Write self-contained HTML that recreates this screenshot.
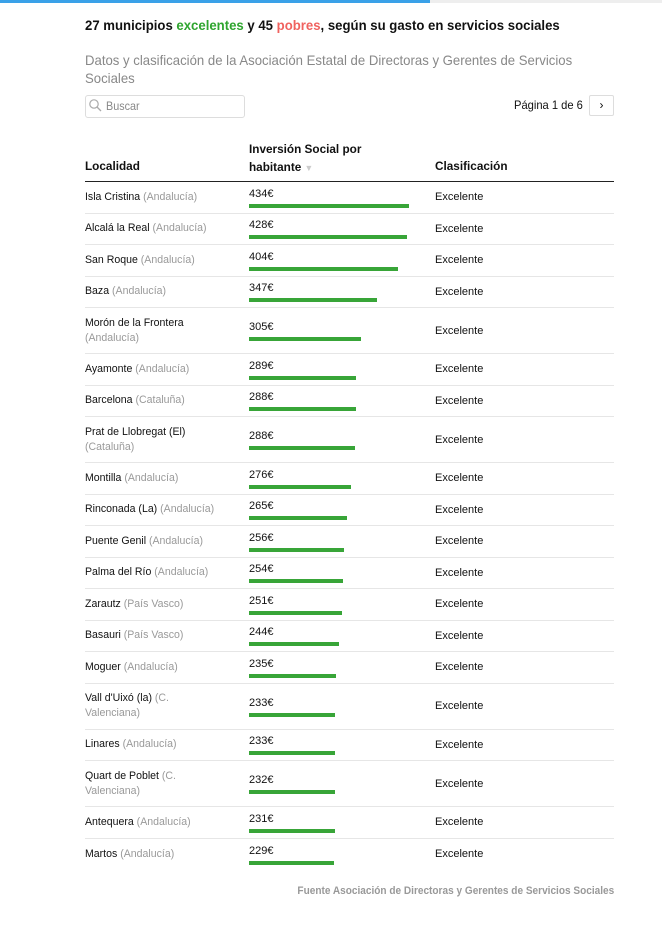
<!DOCTYPE html>
<html><head><meta charset="utf-8"><style>
*{margin:0;padding:0;box-sizing:border-box}
body{width:662px;height:928px;background:#fff;font-family:"Liberation Sans",sans-serif;color:#111;position:relative;overflow:hidden}
.a{position:absolute;white-space:nowrap}
.s{display:inline-block;transform-origin:0 50%;white-space:nowrap}
.g{color:#999}
.row{position:absolute;left:85px;width:529px;border-bottom:1px solid #e6e6e6}
.row .c1{position:absolute;left:0;top:0;height:100%;display:flex;align-items:center;font-size:11px;line-height:15px}
.row .c2{position:absolute;left:164px;top:0;height:100%;display:flex;flex-direction:column;justify-content:center;font-size:11px}
.row .c2 .v{line-height:14px;height:14px}
.row .c2 .b{height:4px;background:#38a538;margin-top:3px}
.row .c3{position:absolute;left:350px;top:0;height:100%;display:flex;align-items:center;font-size:11px}
</style></head><body>
<div class="a" style="left:0;top:0;width:430px;height:3px;background:#3aa1e8"></div>
<div class="a" style="left:430px;top:0;width:232px;height:3px;background:#eee"></div>
<div class="a" style="left:85px;top:15px;font-size:14px;font-weight:bold;line-height:20px"><span class="s" style="transform:scaleX(.94)">27 municipios <span style="color:#2fa52f">excelentes</span> y 45 <span style="color:#f0625f">pobres</span>, según su gasto en servicios sociales</span></div>
<div class="a" style="left:85px;top:51px;font-size:14px;color:#888;line-height:18px"><span class="s" style="transform:scaleX(.94)">Datos y clasificación de la Asociación Estatal de Directoras y Gerentes de Servicios</span><br><span class="s" style="transform:scaleX(.94)">Sociales</span></div>
<div class="a" style="left:85px;top:95px;width:160px;height:23px;border:1px solid #ddd;border-radius:3px"></div>
<svg class="a" style="left:88px;top:98px" width="14" height="14"><circle cx="6" cy="6" r="4.2" fill="none" stroke="#aaa" stroke-width="1.2"/><line x1="9" y1="9" x2="13" y2="13" stroke="#aaa" stroke-width="1.3"/></svg>
<div class="a" style="left:106px;top:99px;font-size:12px;color:#888;line-height:15px"><span class="s" style="transform:scaleX(.9)">Buscar</span></div>
<div class="a" style="left:514px;top:97px;font-size:12px;line-height:16px"><span class="s" style="transform:scaleX(.93)">Página 1 de 6</span></div>
<div class="a" style="left:589px;top:95px;width:25px;height:21px;border:1px solid #ddd;border-radius:2px;font-size:12px;text-align:center;line-height:19px">&#x203A;</div>
<div class="a" style="left:249px;top:140px;font-size:12px;font-weight:bold;line-height:18px"><span class="s" style="transform:scaleX(.98)">Inversión Social por</span><br><span class="s" style="transform:scaleX(.98)">habitante <span style="color:#ccc;font-size:9px">▼</span></span></div>
<div class="a" style="left:85px;top:158px;font-size:12px;font-weight:bold;line-height:16px"><span class="s" style="transform:scaleX(.98)">Localidad</span></div>
<div class="a" style="left:435px;top:158px;font-size:12px;font-weight:bold;line-height:16px"><span class="s" style="transform:scaleX(.98)">Clasificación</span></div>
<div class="a" style="left:85px;top:181px;width:529px;height:1px;background:#222"></div>

<div class="row" style="top:182px;height:31.5px"><div class="c1"><span class="s" style="transform:scaleX(.96)">Isla Cristina <span class="g">(Andalucía)</span></span></div><div class="c2"><div class="v">434€</div><div class="b" style="width:160px"></div></div><div class="c3">Excelente</div></div>
<div class="row" style="top:213.5px;height:31.5px"><div class="c1"><span class="s" style="transform:scaleX(.96)">Alcalá la Real <span class="g">(Andalucía)</span></span></div><div class="c2"><div class="v">428€</div><div class="b" style="width:158px"></div></div><div class="c3">Excelente</div></div>
<div class="row" style="top:245px;height:31.5px"><div class="c1"><span class="s" style="transform:scaleX(.96)">San Roque <span class="g">(Andalucía)</span></span></div><div class="c2"><div class="v">404€</div><div class="b" style="width:149px"></div></div><div class="c3">Excelente</div></div>
<div class="row" style="top:276.5px;height:31.5px"><div class="c1"><span class="s" style="transform:scaleX(.96)">Baza <span class="g">(Andalucía)</span></span></div><div class="c2"><div class="v">347€</div><div class="b" style="width:128px"></div></div><div class="c3">Excelente</div></div>
<div class="row" style="top:308px;height:46px"><div class="c1"><span class="s" style="transform:scaleX(.96)">Morón de la Frontera<br><span class="g">(Andalucía)</span></span></div><div class="c2"><div class="v">305€</div><div class="b" style="width:112px"></div></div><div class="c3">Excelente</div></div>
<div class="row" style="top:354px;height:31.5px"><div class="c1"><span class="s" style="transform:scaleX(.96)">Ayamonte <span class="g">(Andalucía)</span></span></div><div class="c2"><div class="v">289€</div><div class="b" style="width:107px"></div></div><div class="c3">Excelente</div></div>
<div class="row" style="top:385.5px;height:31.5px"><div class="c1"><span class="s" style="transform:scaleX(.96)">Barcelona <span class="g">(Cataluña)</span></span></div><div class="c2"><div class="v">288€</div><div class="b" style="width:107px"></div></div><div class="c3">Excelente</div></div>
<div class="row" style="top:417px;height:46px"><div class="c1"><span class="s" style="transform:scaleX(.96)">Prat de Llobregat (El)<br><span class="g">(Cataluña)</span></span></div><div class="c2"><div class="v">288€</div><div class="b" style="width:106px"></div></div><div class="c3">Excelente</div></div>
<div class="row" style="top:463px;height:31.5px"><div class="c1"><span class="s" style="transform:scaleX(.96)">Montilla <span class="g">(Andalucía)</span></span></div><div class="c2"><div class="v">276€</div><div class="b" style="width:102px"></div></div><div class="c3">Excelente</div></div>
<div class="row" style="top:494.5px;height:31.5px"><div class="c1"><span class="s" style="transform:scaleX(.96)">Rinconada (La) <span class="g">(Andalucía)</span></span></div><div class="c2"><div class="v">265€</div><div class="b" style="width:98px"></div></div><div class="c3">Excelente</div></div>
<div class="row" style="top:526px;height:31.5px"><div class="c1"><span class="s" style="transform:scaleX(.96)">Puente Genil <span class="g">(Andalucía)</span></span></div><div class="c2"><div class="v">256€</div><div class="b" style="width:95px"></div></div><div class="c3">Excelente</div></div>
<div class="row" style="top:557.5px;height:31.5px"><div class="c1"><span class="s" style="transform:scaleX(.96)">Palma del Río <span class="g">(Andalucía)</span></span></div><div class="c2"><div class="v">254€</div><div class="b" style="width:94px"></div></div><div class="c3">Excelente</div></div>
<div class="row" style="top:589px;height:31.5px"><div class="c1"><span class="s" style="transform:scaleX(.96)">Zarautz <span class="g">(País Vasco)</span></span></div><div class="c2"><div class="v">251€</div><div class="b" style="width:93px"></div></div><div class="c3">Excelente</div></div>
<div class="row" style="top:620.5px;height:31.5px"><div class="c1"><span class="s" style="transform:scaleX(.96)">Basauri <span class="g">(País Vasco)</span></span></div><div class="c2"><div class="v">244€</div><div class="b" style="width:90px"></div></div><div class="c3">Excelente</div></div>
<div class="row" style="top:652px;height:31.5px"><div class="c1"><span class="s" style="transform:scaleX(.96)">Moguer <span class="g">(Andalucía)</span></span></div><div class="c2"><div class="v">235€</div><div class="b" style="width:87px"></div></div><div class="c3">Excelente</div></div>
<div class="row" style="top:683.5px;height:46px"><div class="c1"><span class="s" style="transform:scaleX(.96)">Vall d'Uixó (la) <span class="g">(C.</span><br><span class="g">Valenciana)</span></span></div><div class="c2"><div class="v">233€</div><div class="b" style="width:86px"></div></div><div class="c3">Excelente</div></div>
<div class="row" style="top:729.5px;height:31.5px"><div class="c1"><span class="s" style="transform:scaleX(.96)">Linares <span class="g">(Andalucía)</span></span></div><div class="c2"><div class="v">233€</div><div class="b" style="width:86px"></div></div><div class="c3">Excelente</div></div>
<div class="row" style="top:761px;height:46px"><div class="c1"><span class="s" style="transform:scaleX(.96)">Quart de Poblet <span class="g">(C.</span><br><span class="g">Valenciana)</span></span></div><div class="c2"><div class="v">232€</div><div class="b" style="width:86px"></div></div><div class="c3">Excelente</div></div>
<div class="row" style="top:807px;height:31.5px"><div class="c1"><span class="s" style="transform:scaleX(.96)">Antequera <span class="g">(Andalucía)</span></span></div><div class="c2"><div class="v">231€</div><div class="b" style="width:86px"></div></div><div class="c3">Excelente</div></div>
<div class="row" style="top:838.5px;height:31.5px;border-bottom:none"><div class="c1"><span class="s" style="transform:scaleX(.96)">Martos <span class="g">(Andalucía)</span></span></div><div class="c2"><div class="v">229€</div><div class="b" style="width:85px"></div></div><div class="c3">Excelente</div></div>

<div class="a" style="right:48px;top:884px;font-size:11px;color:#999;font-weight:bold;line-height:14px"><span class="s" style="transform:scaleX(.915);transform-origin:100% 50%">Fuente Asociación de Directoras y Gerentes de Servicios Sociales</span></div>
</body></html>
